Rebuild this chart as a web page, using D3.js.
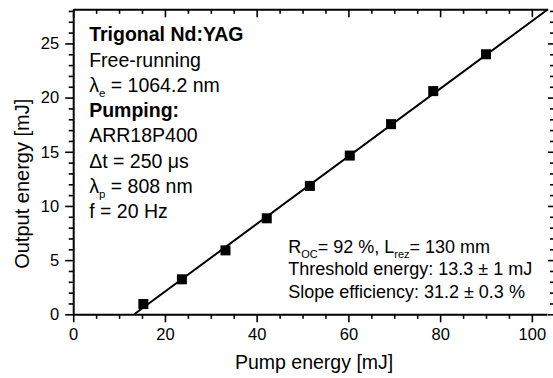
<!DOCTYPE html>
<html>
<head>
<meta charset="utf-8">
<script src="https://cdn.jsdelivr.net/npm/d3@7"></script>
<style>
  body { margin: 0; background: #fff; }
  .axis path, .axis line { stroke: #000; }
  .axis text { fill: #000; }
</style>
</head>
<body>
<svg id="chart" width="553" height="378" font-family="Arial, 'Liberation Sans', sans-serif"></svg>
<script>
// measured points
const pump = [15.3, 23.7, 33.2, 42.2, 51.6, 60.3, 69.3, 78.5, 90.0];
const output = [0.95, 3.23, 5.9, 8.86, 11.85, 14.65, 17.55, 20.6, 24.0];

// linear fit
const threshold = 13.3;
const slope = 0.312;

const xTicks = [0, 20, 40, 60, 80, 100];
const yTicks = [0, 5, 10, 15, 20, 25];

const infoLines = ["Trigonal Nd:YAG", "Free-running", "λe = 1064.2 nm", "Pumping:", "ARR18P400", "Δt = 250 μs", "λp = 808 nm", "f = 20 Hz"];

const margin = { top: 9.3, right: 6, bottom: 63.7, left: 73.2 };
const W = 553, H = 378;
const w = W - margin.left - margin.right,
      h = H - margin.top - margin.bottom;

const svg = d3.select("#chart")
    .append("g")
    .attr("transform", "translate(" + margin.left + "," + margin.top + ")");

const x = d3.scaleLinear().domain([0, 103.3]).range([0, w]);
const y = d3.scaleLinear().domain([0, 28.15]).range([h, 0]);

const minorX = d3.range(0, 101, 5).filter(v => v % 20 !== 0);
const minorY = d3.range(0, 29, 1).filter(v => v % 5 !== 0);

function styleAxis(g, width) {
    g.attr("class", "axis").attr("font-family", null);
    g.select(".domain").attr("stroke-width", 2);
    g.selectAll(".tick line").attr("stroke-width", width);
}

// bottom axis
svg.append("g")
    .attr("transform", "translate(0," + h + ")")
    .call(d3.axisBottom(x).tickValues(xTicks).tickSize(8).tickSizeOuter(0).tickPadding(6))
    .call(g => styleAxis(g, 1.6))
    .selectAll("text").style("font-size", "16.5px");
svg.append("g")
    .attr("transform", "translate(0," + h + ")")
    .call(d3.axisBottom(x).tickValues(minorX).tickSize(4.5).tickFormat(""))
    .call(g => styleAxis(g, 1.6))
    .call(g => g.select(".domain").remove());

// left axis
svg.append("g")
    .call(d3.axisLeft(y).tickValues(yTicks).tickSize(8).tickSizeOuter(0).tickPadding(6))
    .call(g => styleAxis(g, 1.6))
    .selectAll("text").style("font-size", "16.5px");
svg.append("g")
    .call(d3.axisLeft(y).tickValues(minorY).tickSize(4.5).tickFormat(""))
    .call(g => styleAxis(g, 1.6))
    .call(g => g.select(".domain").remove());

// top axis, ticks pointing in
svg.append("g")
    .call(d3.axisTop(x).tickValues(xTicks).tickSize(-8).tickSizeOuter(0).tickFormat(""))
    .call(g => styleAxis(g, 1.6));
svg.append("g")
    .call(d3.axisTop(x).tickValues(minorX).tickSize(-4.5).tickFormat(""))
    .call(g => styleAxis(g, 1.6))
    .call(g => g.select(".domain").remove());

// right axis, ticks only
svg.append("g")
    .attr("transform", "translate(" + (w + 1) + ",0)")
    .call(d3.axisRight(y).tickValues(yTicks).tickSize(8).tickFormat(""))
    .call(g => styleAxis(g, 1.6))
    .call(g => g.select(".domain").remove());
svg.append("g")
    .attr("transform", "translate(" + (w + 3) + ",0)")
    .call(d3.axisRight(y).tickValues(minorY).tickSize(4.5).tickFormat(""))
    .call(g => styleAxis(g, 1.6))
    .call(g => g.select(".domain").remove());

// fit line
const xEnd = threshold + y.domain()[1] / slope;
svg.append("line")
    .attr("x1", x(threshold)).attr("y1", y(0))
    .attr("x2", x(xEnd)).attr("y2", y(slope * (xEnd - threshold)))
    .attr("stroke", "#000")
    .attr("stroke-width", 2);

// points
const sq = 10;
svg.append("g")
    .selectAll("rect")
    .data(pump).enter()
    .append("rect")
    .attr("x", (d) => x(d) - sq / 2)
    .attr("y", (d, i) => y(output[i]) - sq / 2)
    .attr("width", sq)
    .attr("height", sq)
    .attr("fill", "#000");

// axis titles
svg.append("text")
    .attr("text-anchor", "middle")
    .attr("x", w / 2 + 4)
    .attr("y", h + 55)
    .style("font-size", "19.5px")
    .text("Pump energy [mJ]");

svg.append("text")
    .attr("text-anchor", "middle")
    .attr("transform", "translate(" + (-44) + "," + (h / 2 + 22) + ") rotate(-90)")
    .style("font-size", "20px")
    .text("Output energy [mJ]");

// info block
const info = svg.append("g").style("font-size", "19.5px");
const lh = 25.3;
function sub(t, base, s, rest) {
    t.append("tspan").text(base);
    t.append("tspan").attr("dy", 5).style("font-size", "11.5px").text(s);
    t.append("tspan").attr("dy", -5).text(rest);
}
infoLines.forEach((s, i) => {
    const t = info.append("text")
        .attr("x", 16)
        .attr("y", 32 + i * lh);
    if (i === 0 || i === 3) t.style("font-weight", "bold");
    if (s.startsWith("λ")) sub(t, "λ", s[1], s.slice(2));
    else t.text(s);
});

// fit results
const res = svg.append("g").style("font-size", "18px");
const rx = 215, ry = 243.5, rl = 22.5;
const r0 = res.append("text").attr("x", rx).attr("y", ry);
r0.append("tspan").text("R");
r0.append("tspan").attr("dy", 5).style("font-size", "11px").text("OC");
r0.append("tspan").attr("dy", -5).text("= 92 %, L");
r0.append("tspan").attr("dy", 5).style("font-size", "11px").text("rez");
r0.append("tspan").attr("dy", -5).text("= 130 mm");
res.append("text").attr("x", rx).attr("y", ry + rl)
    .text("Threshold energy: " + threshold + " ± 1 mJ");
res.append("text").attr("x", rx).attr("y", ry + 2 * rl)
    .text("Slope efficiency: " + (slope * 100).toFixed(1) + " ± 0.3 %");
</script>
</body>
</html>
